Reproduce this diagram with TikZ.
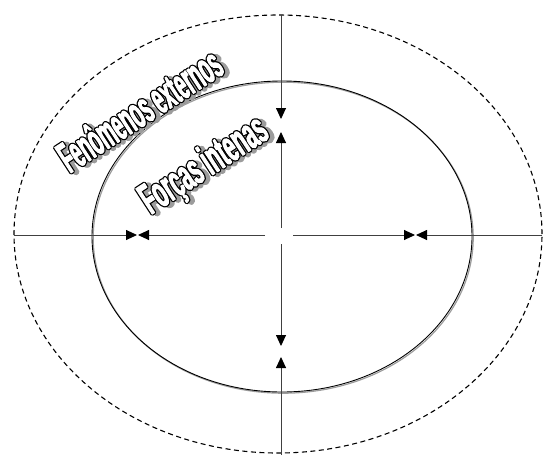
\documentclass[tikz,border=0pt]{standalone}
\usepackage{fontspec}
\setmainfont{Liberation Sans}
\newfontfamily\artefont{Liberation Sans}[FakeStretch=0.42]
\newfontfamily\artefontb{Liberation Sans}[FakeStretch=0.46]
\usepackage{tikz}
\usetikzlibrary{arrows.meta,shapes.geometric,shadows}
\definecolor{linha}{HTML}{404040}
\definecolor{sombra}{HTML}{9C9C9C}
% texto branco com contorno preto e sombra cinza
\newcommand{\arte}[1]{%
  \makebox[0pt][l]{\hspace{3.4pt}\raisebox{-3pt}{\textcolor{sombra}{%
    \special{pdf:code 2 Tr 3.6 w 1 j 0.61 G}#1\special{pdf:code 0 Tr}}}}%
  \makebox[0pt][l]{\special{pdf:code 2 Tr 3.4 w 1 j 0 G}#1\special{pdf:code 0 Tr}}%
  \textcolor{white}{\special{pdf:code 2 Tr 0.9 w 1 j 1 G}#1\special{pdf:code 0 Tr}}}
\tikzset{
  externa/.style={ellipse, draw=black, dashed, dash pattern=on 5pt off 3.5pt,
                  line width=1.1pt, minimum width=528pt, minimum height=438pt},
  interna/.style={ellipse, draw=black, line width=0.9pt,
                  minimum width=380pt, minimum height=311pt,
                  drop shadow={fill=none, draw=sombra, line width=1.2pt, opacity=1,
                               shadow xshift=1.2pt, shadow yshift=-1.2pt}},
  eixo/.style={line width=0.9pt, draw=linha},
  seta/.style={eixo, -{Triangle[length=11pt,width=10pt,color=black]}},
  rotulo/.style={font=\bfseries\fontsize{44}{44}\selectfont, anchor=base,
                 rotate=33, inner sep=0pt},
}
\begin{document}
\begin{tikzpicture}[x=1pt, y=-1pt]
  \useasboundingbox (0,0) rectangle (545,455);

  % elipses
  \node[externa] (ext) at (278,234) {};
  \node[interna] (int) at (282,236.5) {};

  % extremidades e pontas
  \coordinate (N) at (281,15);
  \coordinate (S) at (281,455);
  \coordinate (W) at (14,235);
  \coordinate (E) at (542,235);
  \coordinate (Nc) at (281,228);
  \coordinate (Sc) at (281,244);
  \coordinate (Wc) at (265,235);
  \coordinate (Ec) at (293,235);
  \coordinate (n1) at (281,119);
  \coordinate (n2) at (281,132);
  \coordinate (s1) at (281,346);
  \coordinate (s2) at (281,357);
  \coordinate (w1) at (137,235);
  \coordinate (w2) at (138,235);
  \coordinate (e1) at (415,235);
  \coordinate (e2) at (416,235);

  % forças de fora para dentro
  \draw[seta] (N) -- (n1);
  \draw[seta] (S) -- (s2);
  \draw[seta] (W) -- (w1);
  \draw[seta] (E) -- (e2);
  % forças de dentro para fora
  \draw[seta] (Nc) -- (n2);
  \draw[seta] (Sc) -- (s1);
  \draw[seta] (Wc) -- (w2);
  \draw[seta] (Ec) -- (e1);

  % rótulos
  \node[rotulo] (fen) at (148,123) {\artefont\arte{Fenômenos externos}};
  \node[rotulo] (forcas) at (211,176) {\artefontb\arte{Forças intenas}};
\end{tikzpicture}
\end{document}
